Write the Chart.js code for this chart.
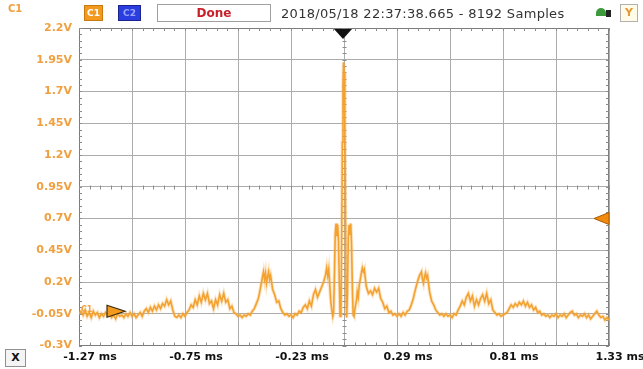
<!DOCTYPE html>
<html><head><meta charset="utf-8">
<script src="https://cdn.jsdelivr.net/npm/chart.js@4.4.1/dist/chart.umd.min.js"></script>
<style>
html,body{margin:0;padding:0;background:#fff;overflow:hidden;}
#wrap{position:relative;width:643px;height:369px;background:#fff;}
canvas{position:absolute;left:0;top:0;}
.t{position:absolute;font-family:"DejaVu Sans",sans-serif;white-space:nowrap;line-height:1;}
.box{position:absolute;box-sizing:border-box;font-family:"DejaVu Sans",sans-serif;text-align:center;white-space:nowrap;}
</style></head><body>
<div id="wrap">
<canvas id="c" width="643" height="369"></canvas>
<div class="t" style="left:8px;top:4px;font-size:10px;font-weight:bold;color:#f0a040;">C1</div>
<div class="box" style="left:84px;top:5px;width:19px;height:16px;background:#f39a1e;border:1px solid #c77a12;color:#fff;font-size:9px;font-weight:bold;line-height:14px;">C1</div>
<div class="box" style="left:118px;top:5px;width:23px;height:16px;background:#2a3ee0;border:1px solid #1a2390;color:#9aa6ff;font-size:9px;font-weight:bold;line-height:14px;">C2</div>
<div class="box" style="left:157px;top:4px;width:114px;height:18px;background:#fff;border:1px solid #a0a0a0;color:#c8202a;font-size:12px;font-weight:bold;line-height:16px;">Done</div>
<div class="t" style="left:281px;top:7px;font-size:13px;color:#333;letter-spacing:0.3px;">2018/05/18 22:37:38.665 - 8192 Samples</div>
<div style="position:absolute;left:593px;top:6px;width:20px;height:14px;background:#fff;"></div>
<div style="position:absolute;left:596px;top:8px;width:10px;height:8px;background:#3c9a3c;border-radius:5px 5px 0 0;"></div>
<div style="position:absolute;left:606px;top:10px;width:5px;height:7px;background:#222;"></div>
<div class="box" style="left:620px;top:4px;width:18px;height:18px;background:#fffbe6;border:1px solid #b0b0b0;color:#e39a3a;font-size:11px;font-weight:bold;line-height:16px;">Y</div>
<div class="box" style="left:5px;top:349px;width:21px;height:18px;background:#f4f4f4;border:1px solid #909090;color:#111;font-size:11px;font-weight:bold;line-height:16px;">X</div>
<div class="t" style="left:81px;top:306px;font-size:8px;font-weight:bold;color:#f0a040;">C1</div>
</div>
<script>
// ---- data (time in ms, voltage in V) ----
const timeMs = [
-1.27,-1.26,-1.25,-1.24,-1.23,-1.22,-1.21,-1.20,-1.19,-1.18,
-1.17,-1.16,-1.15,-1.14,-1.13,-1.12,-1.11,-1.10,-1.09,-1.08,
-1.07,-1.06,-1.05,-1.04,-1.03,-1.02,-1.01,-1.00,-0.99,-0.98,
-0.97,-0.96,-0.95,-0.94,-0.93,-0.92,-0.91,-0.90,-0.89,-0.88,
-0.87,-0.86,-0.85,-0.84,-0.83,-0.82,-0.81,-0.80,-0.79,-0.78,
-0.77,-0.76,-0.75,-0.74,-0.73,-0.72,-0.71,-0.70,-0.69,-0.68,
-0.67,-0.66,-0.65,-0.64,-0.63,-0.62,-0.61,-0.60,-0.59,-0.58,
-0.57,-0.56,-0.55,-0.54,-0.53,-0.52,-0.51,-0.50,-0.49,-0.48,
-0.47,-0.46,-0.45,-0.44,-0.43,-0.42,-0.41,-0.40,-0.39,-0.38,
-0.37,-0.365,-0.36,-0.355,-0.35,-0.345,-0.34,-0.335,-0.33,-0.32,
-0.31,-0.30,-0.29,-0.28,-0.27,-0.26,-0.25,-0.24,-0.23,-0.22,
-0.21,-0.20,-0.19,-0.18,-0.17,-0.16,-0.15,-0.14,-0.13,-0.12,
-0.11,-0.10,-0.09,-0.08,-0.07,-0.06,-0.055,-0.05,-0.045,-0.04,
-0.035,-0.03,-0.025,-0.021,-0.017,-0.013,-0.009,-0.005,-0.001,0.003,
0.007,0.011,0.015,0.019,0.022,0.025,0.028,0.031,0.034,0.037,
0.040,0.043,0.047,0.051,0.055,0.059,0.063,0.067,0.071,0.075,
0.079,0.083,0.087,0.091,0.095,0.100,0.105,0.110,0.115,0.120,
0.125,0.130,0.135,0.140,
0.15,0.16,0.17,0.18,0.19,0.20,0.21,0.22,0.23,0.24,
0.25,0.26,0.27,0.28,0.29,0.30,0.31,0.32,0.33,0.34,
0.35,0.36,0.37,0.38,0.39,0.40,0.41,0.415,0.42,0.425,
0.43,0.435,0.44,0.45,0.46,0.47,0.48,0.49,0.50,0.51,
0.52,0.53,0.54,0.55,0.56,0.57,0.58,0.59,0.60,0.61,
0.62,0.63,0.64,0.65,0.66,0.67,0.68,0.69,0.70,0.71,
0.72,0.73,0.74,0.75,0.76,0.77,0.78,0.79,0.80,0.81,
0.82,0.83,0.84,0.85,0.86,0.87,0.88,0.89,0.90,0.91,
0.92,0.93,0.94,0.95,0.96,0.97,0.98,0.99,1.00,1.01,
1.02,1.03,1.04,1.05,1.06,1.07,1.08,1.09,1.10,1.11,
1.12,1.13,1.14,1.15,1.16,1.17,1.18,1.19,1.20,1.21,
1.22,1.23,1.24,1.25,1.26,1.27,1.28,1.29,1.30,1.31,
1.32,1.33
];
const voltageC1 = [
-0.05,-0.03,-0.06,-0.02,-0.07,-0.04,-0.08,-0.03,-0.06,-0.04,
-0.08,-0.05,-0.07,-0.04,-0.06,-0.05,-0.08,-0.06,-0.09,-0.05,
-0.07,-0.06,-0.08,-0.05,-0.07,-0.04,-0.07,-0.05,-0.08,-0.06,
-0.04,-0.07,-0.03,-0.01,-0.04,0.00,-0.03,0.01,-0.02,0.02,
-0.01,0.03,0.01,0.06,0.02,0.05,-0.02,-0.07,-0.08,-0.06,
-0.08,-0.05,-0.07,-0.04,-0.02,0.02,0.00,0.06,0.02,0.09,
0.04,0.11,0.06,0.11,0.03,0.05,-0.01,0.06,0.02,0.10,
0.05,0.11,0.04,0.06,-0.01,0.01,-0.04,-0.05,-0.07,-0.06,
-0.08,-0.06,-0.07,-0.05,-0.06,-0.03,-0.01,0.03,0.07,0.15,
0.24,0.28,0.22,0.27,0.19,0.24,0.28,0.22,0.25,0.14,
0.10,0.04,0.05,-0.01,-0.04,-0.06,-0.05,-0.07,-0.06,-0.08,
-0.05,-0.06,-0.03,-0.04,0.00,0.02,-0.01,0.05,0.01,0.10,
0.14,0.08,0.12,0.16,0.20,0.26,0.31,0.25,0.30,0.18,
0.05,-0.02,-0.07,-0.04,0.25,0.58,0.66,0.56,0.65,0.52,
0.20,-0.07,-0.04,0.60,1.30,1.75,1.93,1.85,1.45,0.80,
0.15,-0.08,0.10,0.55,0.65,0.57,0.66,0.50,0.15,-0.06,
-0.07,-0.02,0.02,0.05,0.12,0.08,0.18,0.22,0.27,0.31,
0.28,0.30,0.22,0.16,
0.11,0.13,0.10,0.15,0.12,0.15,0.07,0.04,-0.01,0.01,
-0.04,-0.03,-0.06,-0.05,-0.07,-0.05,-0.07,-0.04,-0.06,-0.03,
-0.02,0.02,0.07,0.14,0.20,0.25,0.28,0.22,0.19,0.24,
0.27,0.23,0.25,0.12,0.05,0.02,-0.02,-0.04,-0.06,-0.05,
-0.07,-0.05,-0.07,-0.06,-0.08,-0.05,-0.06,-0.02,0.01,0.05,
0.02,0.08,0.11,0.05,0.09,0.01,0.06,0.02,0.07,0.10,
0.05,0.11,0.03,0.06,-0.02,-0.04,-0.06,-0.05,-0.07,-0.06,
-0.05,-0.04,-0.01,0.02,0.00,0.03,0.01,0.04,0.02,0.05,
0.01,0.04,0.00,0.02,-0.02,0.00,-0.04,-0.03,-0.06,-0.05,
-0.07,-0.06,-0.08,-0.06,-0.07,-0.05,-0.08,-0.06,-0.07,-0.05,
-0.08,-0.06,-0.04,-0.03,-0.06,-0.05,-0.08,-0.06,-0.07,-0.05,
-0.08,-0.06,-0.09,-0.07,-0.05,-0.03,-0.06,-0.08,-0.07,-0.10,
-0.08,-0.10
];
const xGridTicks = [-1.27,-1.01,-0.75,-0.49,-0.23,0.03,0.29,0.55,0.81,1.07,1.33];
const xLabelTicks = [-1.27,-0.75,-0.23,0.29,0.81,1.33];
const yTicks = [-0.3,-0.05,0.2,0.45,0.7,0.95,1.2,1.45,1.7,1.95,2.2];
const triggerTime = 0.03;   // ms
const triggerLevel = 0.7;   // V
const groundLevel = -0.03;  // V

const fmt = v => String(+v.toFixed(2));
const points = timeMs.map((t, i) => ({x: t, y: voltageC1[i]}));

const deco = {
  id: 'deco',
  beforeDatasetsDraw(chart) {
    const {ctx, chartArea: a} = chart;
    const xs = chart.scales.x, ys = chart.scales.y;
    ctx.save();
    ctx.strokeStyle = '#7c7c7c'; ctx.lineWidth = 1;
    ctx.strokeRect(Math.round(a.left) + 0.5, Math.round(a.top) + 0.5, Math.round(a.right - a.left) - 1, Math.round(a.bottom - a.top) - 1);
    const dx = (xs.getPixelForValue(xGridTicks[1]) - xs.getPixelForValue(xGridTicks[0])) / 5;
    const dy = (ys.getPixelForValue(yTicks[0]) - ys.getPixelForValue(yTicks[1])) / 5;
    const cx = Math.round(xs.getPixelForValue(triggerTime)) + 0.5;
    const cy = Math.round(ys.getPixelForValue(0.95)) + 0.5;
    ctx.strokeStyle = '#8c8c8c';
    ctx.beginPath();
    for (let x = a.left; x <= a.right + 0.5; x += dx) {
      const px = Math.round(x) + 0.5;
      ctx.moveTo(px, a.top); ctx.lineTo(px, a.top + 3);
      ctx.moveTo(px, a.bottom); ctx.lineTo(px, a.bottom - 3);
      ctx.moveTo(px, cy - 2); ctx.lineTo(px, cy + 2);
    }
    for (let y = a.top; y <= a.bottom + 0.5; y += dy) {
      const py = Math.round(y) + 0.5;
      ctx.moveTo(a.left, py); ctx.lineTo(a.left + 3, py);
      ctx.moveTo(a.right, py); ctx.lineTo(a.right - 3, py);
      ctx.moveTo(cx - 2, py); ctx.lineTo(cx + 2, py);
    }
    ctx.stroke();
    ctx.restore();
  },
  afterDatasetsDraw(chart) {
    const {ctx, chartArea: a} = chart;
    const xs = chart.scales.x, ys = chart.scales.y;
    ctx.save();
    const tx = xs.getPixelForValue(triggerTime) - 1;
    ctx.fillStyle = '#111';
    ctx.beginPath();
    ctx.moveTo(tx - 9, a.top + 1); ctx.lineTo(tx + 9, a.top + 1); ctx.lineTo(tx, a.top + 11); ctx.closePath();
    ctx.fill();
    const ly = ys.getPixelForValue(triggerLevel);
    ctx.fillStyle = '#f08a10'; ctx.strokeStyle = '#a85a00';
    ctx.beginPath();
    ctx.moveTo(a.right, ly - 6); ctx.lineTo(a.right, ly + 6); ctx.lineTo(a.right - 15, ly); ctx.closePath();
    ctx.fill(); ctx.stroke();
    const gy = ys.getPixelForValue(groundLevel);
    ctx.beginPath();
    ctx.moveTo(a.left + 28, gy - 6); ctx.lineTo(a.left + 28, gy + 6); ctx.lineTo(a.left + 46, gy); ctx.closePath();
    ctx.fillStyle = '#f39a1e'; ctx.fill();
    ctx.strokeStyle = '#3a2a10'; ctx.lineWidth = 1.2; ctx.stroke();
    ctx.restore();
  }
};

new Chart(document.getElementById('c'), {
  type: 'line',
  data: { datasets: [
    { data: points, borderColor: 'rgba(246,176,80,0.35)', borderWidth: 3.5,
      pointRadius: 0, tension: 0, fill: false },
    { data: points, borderColor: '#f29a1e', borderWidth: 1.6,
      pointRadius: 0, tension: 0, fill: false }
  ]},
  options: {
    responsive: false, animation: false, devicePixelRatio: 1,
    layout: { padding: { left: 0, right: 34, top: 28, bottom: 0 } },
    plugins: { legend: { display: false }, tooltip: { enabled: false } },
    scales: {
      x: {
        type: 'linear', min: -1.27, max: 1.33,
        afterBuildTicks: s => { s.ticks = xGridTicks.map(v => ({ value: v })); },
        afterFit: s => { s.height = 23.5; },
        grid: { color: '#acacac', lineWidth: 1, drawTicks: false },
        border: { display: true, color: '#7c7c7c' },
        ticks: {
          autoSkip: false, maxRotation: 0, minRotation: 0, padding: 5, labelOffset: 11,
          color: '#111', font: { family: 'DejaVu Sans', size: 11, weight: 'bold' },
          callback: v => xLabelTicks.some(l => Math.abs(l - v) < 1e-6) ? fmt(v) + ' ms' : ''
        }
      },
      y: {
        min: -0.3, max: 2.2,
        afterBuildTicks: s => { s.ticks = yTicks.map(v => ({ value: v })); },
        afterFit: s => { s.width = 79; },
        grid: { color: '#acacac', lineWidth: 1, drawTicks: false },
        border: { display: true, color: '#7c7c7c' },
        ticks: {
          padding: 7, color: '#f0a040',
          font: { family: 'DejaVu Sans', size: 11, weight: 'bold' },
          callback: v => fmt(v) + 'V'
        }
      }
    }
  },
  plugins: [deco]
});
</script>
</body></html>
